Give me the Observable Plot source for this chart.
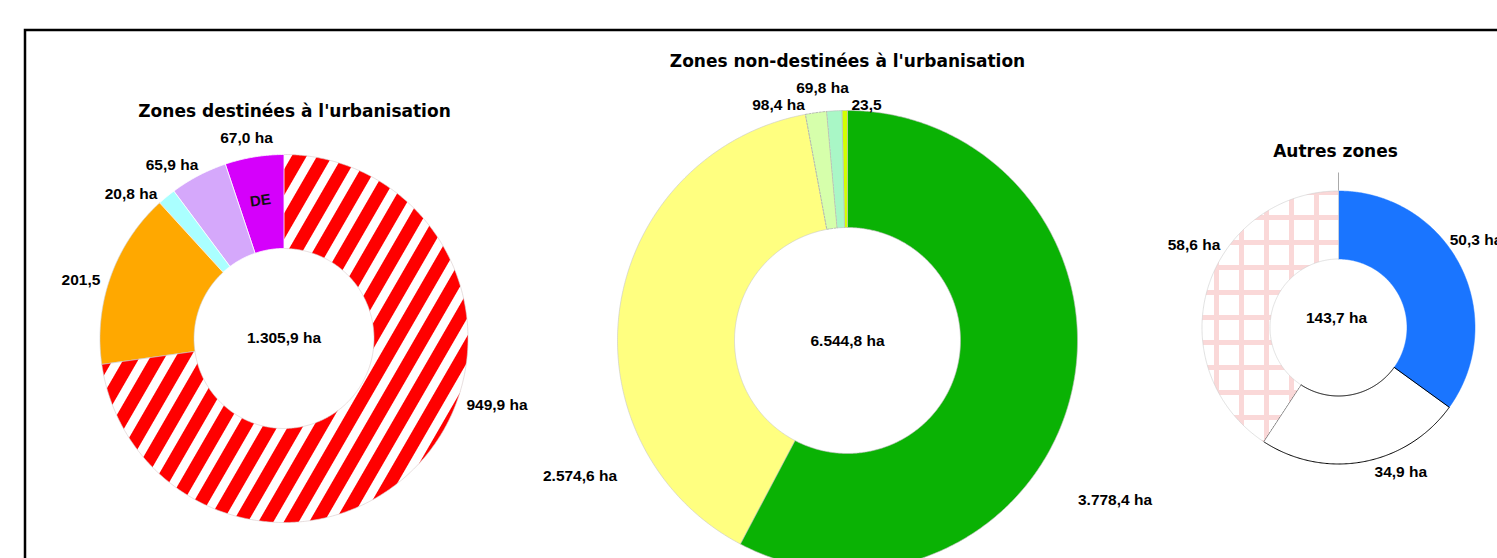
<!DOCTYPE html>
<html>
<head>
<meta charset="utf-8">
<script src="https://cdn.jsdelivr.net/npm/d3@7"></script>
<script src="https://cdn.jsdelivr.net/npm/@observablehq/plot@0.6"></script>
<style>
  html, body { margin: 0; padding: 0; background: #fff; overflow: hidden; }
  #chart svg { display: block; }
</style>
</head>
<body>
<div id="chart"></div>
<script>
// ---------------- DATA ----------------
const titles = ["Zones destinées à l'urbanisation", "Zones non-destinées à l'urbanisation", "Autres zones"];
const totals = [1305.9, 6544.8, 143.7];

const leftCategories = ["Zone hachurée rouge", "Zone orange", "Zone cyan", "Zone lavande", "DE"];
const leftValues = [949.9, 201.5, 20.8, 65.9, 67.0];
const leftUnitShown = [true, false, true, true, true];

const middleCategories = ["Zone verte", "Zone jaune", "Zone vert pâle", "Zone menthe", "Zone vert-jaune"];
const middleValues = [3778.4, 2574.6, 98.4, 69.8, 23.5];
const middleUnitShown = [true, true, true, true, false];

const rightCategories = ["Zone bleue", "Zone blanche", "Zone quadrillée rose"];
const rightValues = [50.3, 34.9, 58.6];
const rightUnitShown = [true, true, true];

const innerTag = "DE";

// ---------------- STYLES / LAYOUT ----------------
const W = 1497, H = 558;
const fmt = d3.formatLocale({decimal: ",", thousands: ".", grouping: [3], currency: ["", ""]}).format(",.1f");

const leftStyles = [
  {fill: "url(#stripesRed)", stroke: "#d6c8c8", sw: 0.6},
  {fill: "#ffa800", stroke: "#cccccc", sw: 0.6},
  {fill: "#aaffff", stroke: "#ffffff", sw: 0.8},
  {fill: "#d5a8fb", stroke: "#ffffff", sw: 0.8},
  {fill: "#d500fb", stroke: "#ffffff", sw: 0.8}
];
const middleStyles = [
  {fill: "#0ab204", stroke: "#bbbbbb", sw: 0.6},
  {fill: "#ffff80", stroke: "#c8c8c8", sw: 0.6},
  {fill: "#d6ffab", stroke: "#aaaaaa", sw: 0.8, dash: "2,1.5"},
  {fill: "#a9f7c6", stroke: "#bbbbbb", sw: 0.6},
  {fill: "#d2ff00", stroke: "#bbbbbb", sw: 0.6}
];
const rightStyles = [
  {fill: "#1a75ff", stroke: "#1a75ff", sw: 0.5},
  {fill: "#ffffff", stroke: "#000000", sw: 1},
  {fill: "url(#gridPink)", stroke: "#cccccc", sw: 0.6}
];

const geoms = [
  {cx: 283.5, cy: 338, ro: 184, ri: 90},
  {cx: 847, cy: 340, ro: 230, ri: 113},
  {cx: 1338, cy: 327, ro: 136.5, ri: 68.5}
];
// title anchors (center x, baseline)
const titlePos = [[294, 116], [847, 66], [1335, 156]];
// label offsets from donut center (x center, baseline)
const leftLabelOff = [[213, 71], [-203, -54], [-153, -139.7], [-112, -169], [-37.5, -195.3]];
const middleLabelOff = [[267.5, 164], [-267.5, 140], [-69, -231], [-25, -247.3], [19, -231]];
const rightLabelOff = [[137.5, -82.7], [62.3, 149], [-144.5, -78]];
const totalOff = [[0, 4.7], [0, 5], [-2, -5]];
const tagOff = [-23.5, -138];
const frameBox = [{x1: 25, y1: 30, x2: W + 20, y2: H + 20}];

const labelFont = "Liberation Sans, Arial, sans-serif";
const titleFont = "DejaVu Sans, Verdana, sans-serif";

function donutMarks(values, styles, g) {
  const total = d3.sum(values);
  const angle = d3.scaleLinear().domain([0, total]).range([0, 2 * Math.PI]);
  const marks = [];
  let acc = 0;
  values.forEach((v, i) => {
    const a0 = angle(acc), a1 = angle(acc + v);
    acc += v;
    const n = Math.max(2, Math.ceil((a1 - a0) / (Math.PI / 360)));
    const pts = [];
    for (let k = 0; k <= n; k++) {
      const a = a0 + (a1 - a0) * k / n;
      pts.push({x: g.cx + g.ro * Math.sin(a), y: g.cy - g.ro * Math.cos(a)});
    }
    for (let k = n; k >= 0; k--) {
      const a = a0 + (a1 - a0) * k / n;
      pts.push({x: g.cx + g.ri * Math.sin(a), y: g.cy - g.ri * Math.cos(a)});
    }
    const s = styles[i];
    marks.push(Plot.line(pts, {
      x: "x", y: "y", curve: "linear-closed",
      fill: s.fill, stroke: s.stroke, strokeWidth: s.sw,
      strokeDasharray: s.dash
    }));
  });
  return marks;
}

function labelRows(values, units, offs, g) {
  return values.map((v, i) => ({
    text: fmt(v) + (units[i] ? " ha" : ""),
    x: g.cx + offs[i][0],
    y: g.cy + offs[i][1]
  }));
}

const labelData = [
  ...labelRows(leftValues, leftUnitShown, leftLabelOff, geoms[0]),
  ...labelRows(middleValues, middleUnitShown, middleLabelOff, geoms[1]),
  ...labelRows(rightValues, rightUnitShown, rightLabelOff, geoms[2]),
  ...totals.map((t, i) => ({text: fmt(t) + " ha", x: geoms[i].cx + totalOff[i][0], y: geoms[i].cy + totalOff[i][1]}))
];
const titleData = titles.map((t, i) => ({text: t, x: titlePos[i][0], y: titlePos[i][1]}));
const tagData = [{text: innerTag, x: geoms[0].cx + tagOff[0], y: geoms[0].cy + tagOff[1]}];
const leaderData = [{x: geoms[2].cx, y1: geoms[2].cy - geoms[2].ro - 18, y2: geoms[2].cy - geoms[2].ro}];

const svg = Plot.plot({
  width: W,
  height: H,
  margin: 0,
  x: {domain: [0, W], range: [0, W], axis: null},
  y: {domain: [0, H], range: [0, H], axis: null},
  style: {background: "white", fontFamily: labelFont},
  marks: [
    ...donutMarks(leftValues, leftStyles, geoms[0]),
    ...donutMarks(middleValues, middleStyles, geoms[1]),
    ...donutMarks(rightValues, rightStyles, geoms[2]),
    Plot.ruleX(leaderData, {x: "x", y1: "y1", y2: "y2", stroke: "#aaaaaa", strokeWidth: 1}),
    Plot.text(labelData, {x: "x", y: "y", text: "text", fontSize: 15.5, fontWeight: "bold", fontFamily: labelFont, lineAnchor: "bottom", fill: "#000"}),
    Plot.text(titleData, {x: "x", y: "y", text: "text", fontSize: 17, fontWeight: "bold", fontFamily: titleFont, lineAnchor: "bottom", fill: "#000"}),
    Plot.text(tagData, {x: "x", y: "y", text: "text", fontSize: 15, fontWeight: "bold", fontFamily: labelFont, rotate: -8, fill: "#111"}),
    Plot.rect(frameBox, {x1: "x1", y1: "y1", x2: "x2", y2: "y2", fill: "none", stroke: "#000", strokeWidth: 2.5})
  ]
});

const defs = d3.select(svg).insert("defs", ":first-child");
defs.html(`
  <pattern id="stripesRed" patternUnits="userSpaceOnUse" width="22" height="22" patternTransform="rotate(30)">
    <rect width="22" height="22" fill="#ffffff"></rect>
    <rect width="13" height="22" fill="#ff0000"></rect>
  </pattern>
  <pattern id="gridPink" patternUnits="userSpaceOnUse" x="13.5" y="14.5" width="25" height="25">
    <rect width="25" height="25" fill="#ffffff"></rect>
    <rect width="5" height="25" fill="#fad8d8"></rect>
    <rect width="25" height="5" fill="#fad8d8"></rect>
  </pattern>
`);

document.getElementById("chart").appendChild(svg);
</script>
</body>
</html>
